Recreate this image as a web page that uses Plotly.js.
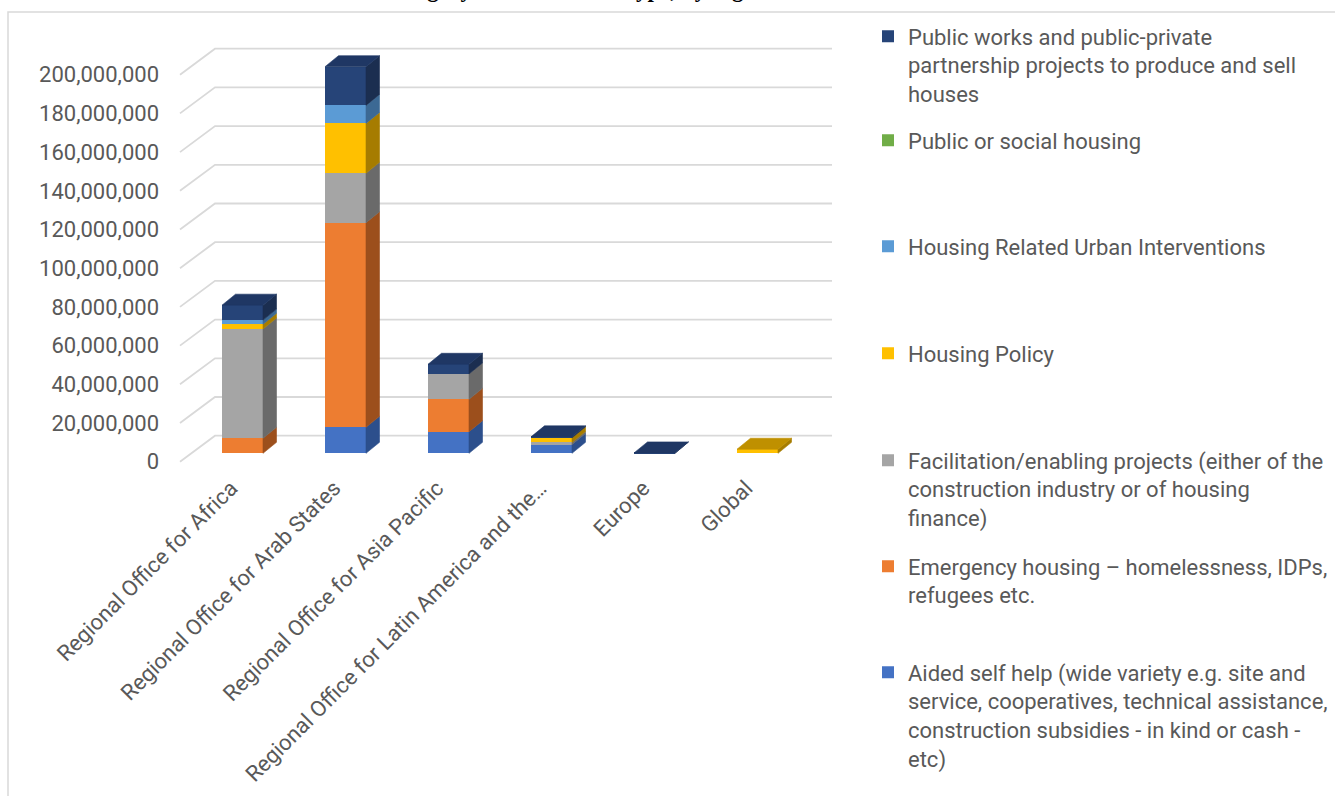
<!DOCTYPE html>
<html><head><meta charset="utf-8">
<script src="https://cdn.plot.ly/plotly-3.0.1.min.js"></script>
<style>html,body{margin:0;padding:0;background:#fff;overflow:hidden}#chart{width:1335px;height:796px}</style>
</head><body><div id="chart"></div>
<script>
// ---------------- data ----------------
const categories = [
  "Regional Office for Africa",
  "Regional Office for Arab States",
  "Regional Office for Asia Pacific",
  "Regional Office for Latin America and the…",
  "Europe",
  "Global"
];
// series, bottom of the stack to top
const aidedSelfHelp      = [0,        13400000,  11200000, 4600000, 0,      0];
const emergencyHousing   = [7750000,  105800000, 16700000, 0,       0,      0];
const facilitation       = [56500000, 25500000,  13100000, 1000000, 0,      0];
const housingPolicy      = [2400000,  25800000,  0,        2400000, 0,      2100000];
const urbanInterventions = [2200000,  9300000,   0,        0,       0,      0];
const socialHousing      = [0,        0,         0,        0,       0,      0];
const publicWorks        = [7700000,  20000000,  5000000,  500000,  200000, 0];

const seriesLabels = [
  "Aided self help (wide variety e.g. site and<br>service, cooperatives, technical assistance,<br>construction subsidies - in kind or cash -<br>etc)",
  "Emergency housing – homelessness, IDPs,<br>refugees etc.",
  "Facilitation/enabling projects (either of the<br>construction industry or of housing<br>finance)",
  "Housing Policy",
  "Housing Related Urban Interventions",
  "Public or social housing",
  "Public works and public-private<br>partnership projects to produce and sell<br>houses"
];
const yTickValues = [0,20000000,40000000,60000000,80000000,100000000,120000000,140000000,160000000,180000000,200000000];
const titleText = "Distribution of total amount in each category of intervention type, by region";

// ---------------- styles ----------------
const frontColors = ["#4472c4","#ed7d31","#a5a5a5","#ffc000","#5b9bd5","#70ad47","#264478"];
const sideColors  = ["#2c4f8c","#9c4f1c","#6a6a6a","#a67c00","#3c6994","#4a7530","#1b2e50"];
const topColors   = ["#3761aa","#c4662a","#8a8a8a","#bf9000","#4d84b6","#5e933c","#1f3764"];
const legendTops  = [673,567,461,354,247,141,37];   // first-line centre (px) of each legend entry

// ---------------- geometry (px) ----------------
const G = {plotL:160, plotR:850, plotT:30, plotB:470, cat0:242.5, catStep:103, barW:41,
           base:453.3, labelBase:461.7, pxPerM:1.935, depthX:13.5, depthY:11,
           gridL:180, gridBackX:215, gridBackDy:26, gridR:832, labelShift:-0.11};
const xData = px => (px - G.cat0) / G.catStep;
const pxToVal = px => px / G.pxPerM * 1e6;
const W = G.barW / G.catStep, DX = G.depthX / G.catStep, DY = pxToVal(G.depthY);

const series = [aidedSelfHelp, emergencyHousing, facilitation, housingPolicy, urbanInterventions, socialHousing, publicWorks];
const traces = [];

// gridlines (back wall + floor diagonal), on base subplot (label system)
const gx = [], gy = [];
yTickValues.forEach(v => {
  gx.push(xData(G.gridL), xData(G.gridBackX), xData(G.gridR), null);
  gy.push(v, v + pxToVal(G.gridBackDy), v + pxToVal(G.gridBackDy), null);
});
traces.push({type:'scatter', mode:'lines', x:gx, y:gy, xaxis:'x', yaxis:'y', line:{color:'#d9d9d9', width:1.8},
             hoverinfo:'skip', showlegend:false, cliponaxis:false});

// front faces
series.forEach((vals, s) => {
  traces.push({type:'bar', name:seriesLabels[s], x:categories.map((c,i)=>i), y:vals, width:W,
    marker:{color:frontColors[s], line:{width:0}}, xaxis:'x', yaxis:'y2',
    legend: s === 6 ? 'legend' : 'legend' + (7 - s), hoverinfo:'y+name'});
});

// side and top faces
const cum = categories.map(() => 0);
const topIdx = categories.map((c,i) => { let t = -1; series.forEach((v,s)=>{ if (v[i] > 0) t = s; }); return t; });
series.forEach((vals, s) => {
  const sx = [], sy = [], tx = [], ty = [];
  vals.forEach((v, i) => {
    if (v <= 0) return;
    const b = cum[i], t = b + v, xl = i - W/2, xr = i + W/2;
    sx.push(xr, xr+DX, xr+DX, xr, xr, null);
    sy.push(b, b+DY, t+DY, t, b, null);
    if (topIdx[i] === s) {
      tx.push(xl, xl+DX, xr+DX, xr, xl, null);
      ty.push(t, t+DY, t+DY, t, t, null);
    }
    cum[i] = t;
  });
  if (sx.length) traces.push({type:'scatter', mode:'lines', x:sx, y:sy, fill:'toself', fillcolor:sideColors[s],
    line:{color:sideColors[s], width:0.6}, xaxis:'x', yaxis:'y2', hoverinfo:'skip', showlegend:false, cliponaxis:false});
  if (tx.length) traces.push({type:'scatter', mode:'lines', x:tx, y:ty, fill:'toself', fillcolor:topColors[s],
    line:{color:topColors[s], width:0.6}, xaxis:'x', yaxis:'y2', hoverinfo:'skip', showlegend:false, cliponaxis:false});
});

const plotW = G.plotR - G.plotL, plotH = G.plotB - G.plotT;
function legendAt(py) {
  return {x:(868 - G.plotL)/plotW, xanchor:'left', y:(G.plotB - (py - 21.5))/plotH, yanchor:'top',
          bgcolor:'rgba(0,0,0,0)', borderwidth:0, valign:'top', tracegroupgap:0,
          font:{family:'Roboto', size:22, color:'#595959'}};
}

const layout = {
  width:1335, height:796,
  margin:{l:G.plotL, r:1335-G.plotR, t:G.plotT, b:796-G.plotB, autoexpand:false},
  paper_bgcolor:'#ffffff', plot_bgcolor:'rgba(0,0,0,0)',
  barmode:'stack',
  font:{family:'Roboto', size:22, color:'#595959'},
  title:{text:'<b>'+titleText+'</b>', font:{family:'Liberation Serif', size:23, color:'#000000'},
         xref:'container', x:0.58, xanchor:'right', yref:'container', y:0.995, yanchor:'bottom', pad:{b:7}},
  xaxis:{range:[xData(G.plotL), xData(G.plotR)], tickvals:categories.map((c,i)=>i+G.labelShift), ticktext:categories,
         tickangle:-45, showgrid:false, zeroline:false, showline:false, ticks:'', automargin:false, fixedrange:true},
  yaxis:{range:[pxToVal(G.labelBase-G.plotB), pxToVal(G.labelBase-G.plotT)], tickvals:yTickValues, tickformat:',.0f',
         showgrid:false, zeroline:false, showline:false, ticks:'', automargin:false, fixedrange:true},
  yaxis2:{overlaying:'y', anchor:'x', range:[pxToVal(G.base-G.plotB), pxToVal(G.base-G.plotT)], visible:false, fixedrange:true},
  showlegend:true,
  shapes:[{type:'rect', xref:'paper', yref:'paper', x0:(8-G.plotL)/plotW, x1:(1345-G.plotL)/plotW,
           y0:(G.plotB-810)/plotH, y1:(G.plotB-12)/plotH, line:{color:'#d9d9d9', width:1.5}, fillcolor:'rgba(0,0,0,0)', layer:'below'}]
};
legendTops.forEach((py, s) => {
  const key = s === 6 ? 'legend' : 'legend' + (7 - s);
  layout[key] = legendAt(py);
});

Plotly.newPlot('chart', traces, layout, {displayModeBar:false});
</script></body></html>
